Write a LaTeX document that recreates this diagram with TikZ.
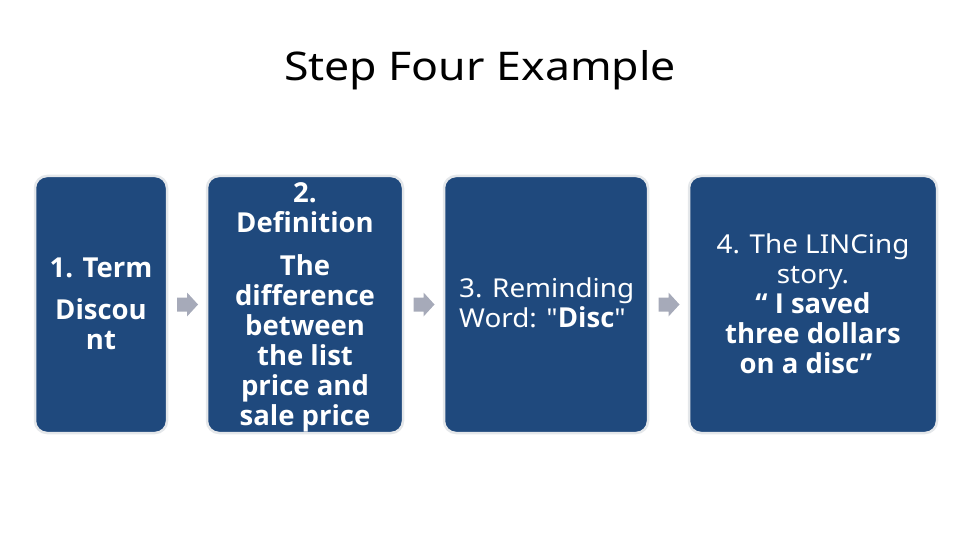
\documentclass[tikz,border=0pt]{standalone}
\usepackage{fontspec}
\setmainfont{Noto Sans}
\newfontfamily\boxfont{Noto Sans}[FakeStretch=1.07]
\newfontfamily\titlefont{Noto Sans}[FakeStretch=1.13]
\newfontfamily\boldfam{Open Sans}
\newcommand{\bx}[1]{{\boldfam\bfseries\fontsize{27.5}{30}\selectfont #1}}
\definecolor{boxblue}{RGB}{31,73,125}
\definecolor{boxedge}{RGB}{228,231,234}
\definecolor{arrowc}{RGB}{166,170,185}
\begin{document}
\begin{tikzpicture}[x=1pt,y=-1pt,
  stepbox/.style={fill=boxblue, draw=boxedge, line width=2.5pt, rounded corners=12pt, inner sep=0pt},
  boxtext/.style={text=white, font=\boxfont\fontsize{26}{30}\selectfont, align=center, inner sep=0pt},
  boldtext/.style={boxtext, font=\boldfam\bfseries\fontsize{27.5}{30}\selectfont},
  blockarrow/.style={fill=arrowc}
]
\useasboundingbox (0,0) rectangle (960,540);
\node[font=\titlefont\fontsize{39.5}{40}\selectfont, anchor=base, inner sep=0pt] (title) at (480,81) {Step Four Example};

\node[stepbox, minimum width=132pt, minimum height=257pt] (b1) at (101,304.5) {};
\node[stepbox, minimum width=196pt, minimum height=257pt] (b2) at (305,304.5) {};
\node[stepbox, minimum width=204pt, minimum height=257pt] (b3) at (546,304.5) {};
\node[stepbox, minimum width=248pt, minimum height=257pt] (b4) at (813,304.5) {};

\node[boldtext] (t1) at (101,304) {1. Term\\[12pt]Discou\\nt};
\node[boldtext] (t2) at (305,307) {2.\\Definition\\[13pt]The\\difference\\between\\the list\\price and\\sale price};
\node[boxtext, align=left, anchor=west] (t3) at (459,303) {3. Reminding\\Word: "\bx{Disc}"};
\node[boxtext] (t4) at (813,303.5) {4. The LINCing\\story.\\\bx{“ I saved}\\\bx{three dollars}\\\bx{on a disc”\ \ \ }};

\path (b1.east) -- (b2.west) coordinate[midway] (m1);
\path (b2.east) -- (b3.west) coordinate[midway] (m2);
\path (b3.east) -- (b4.west) coordinate[midway] (m3);
\foreach \m in {m1,m2,m3}{
  \fill[blockarrow] ([shift={(-10,-7)}]\m) -- ([shift={(0,-7)}]\m) -- ([shift={(0,-12)}]\m)
    -- ([shift={(11,0)}]\m) -- ([shift={(0,12)}]\m) -- ([shift={(0,7)}]\m) -- ([shift={(-10,7)}]\m) -- cycle;
}
\end{tikzpicture}
\end{document}
